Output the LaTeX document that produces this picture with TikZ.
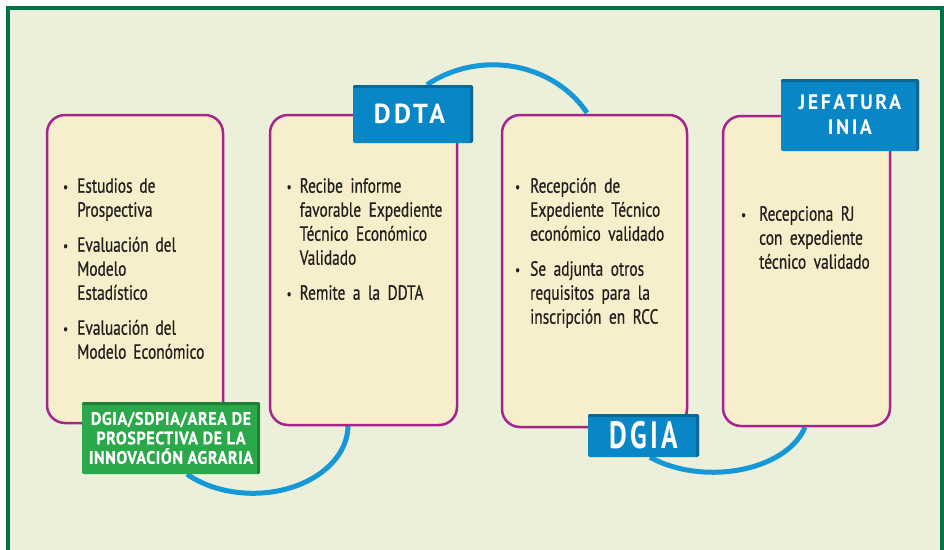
\documentclass[tikz,border=0pt]{standalone}
\usepackage{fontspec}
\usepackage{graphicx}
\setmainfont{PT Sans}[FakeStretch=0.75,FakeBold=0.6]
\newfontfamily\labA{PT Sans}[FakeStretch=0.95,LetterSpace=12]
\newfontfamily\labB{PT Sans}[FakeStretch=0.9,LetterSpace=3,FakeBold=0.4]
\newfontfamily\labC{PT Sans}[FakeStretch=0.72,LetterSpace=9]
\usetikzlibrary{backgrounds,calc}
\definecolor{bgc}{RGB}{236,239,217}
\definecolor{framec}{RGB}{0,112,72}
\definecolor{boxfill}{RGB}{247,238,203}
\definecolor{boxline}{RGB}{166,36,142}
\definecolor{labblue}{RGB}{8,134,198}
\definecolor{labbluedk}{RGB}{10,104,150}
\definecolor{labgreen}{RGB}{42,168,74}
\definecolor{labgreendk}{RGB}{30,130,56}
\definecolor{arcc}{RGB}{20,152,216}
\definecolor{txt}{RGB}{35,31,30}
\newlength\bind
\newcommand\nl{\hfil\break}
\newcommand\bitem[1]{\noindent\hangindent=\bind\hangafter=1\rule{0pt}{17pt}\makebox[\bind][l]{\raisebox{1pt}{\scalebox{0.7}{\textbullet}}}#1\par}
\begin{document}
\begin{tikzpicture}[x=1pt,y=-1pt,
  stagebox/.style={draw=boxline, line width=2.5pt, fill=boxfill, rounded corners=18pt, inner sep=0pt},
  bodytext/.style={anchor=north west, inner sep=0pt, text width=175pt, align=left, text=txt, font=\fontsize{20.5}{24}\selectfont},
  tag/.style 2 args={fill=#1, inner sep=0pt, text=white, rounded corners=2pt, align=center,
    path picture={\fill[#2] (path picture bounding box.north west) rectangle ([yshift=-3pt]path picture bounding box.north east);
                  \fill[#2] ([xshift=-3pt]path picture bounding box.north east) rectangle (path picture bounding box.south east);}},
  link/.style={draw=arcc, line width=5pt}]
\useasboundingbox (0,0) rectangle (944,549);
% stage boxes
\node[stagebox, minimum width=176pt, minimum height=308pt] (b1) at (135,269) {};
\node[stagebox, minimum width=187pt, minimum height=310pt] (b2) at (363.5,270) {};
\node[stagebox, minimum width=185pt, minimum height=312pt] (b3) at (594.5,271) {};
\node[stagebox, minimum width=167pt, minimum height=310pt] (b4) at (806.5,271) {};
% texts
\node[bodytext] (t1) at (63,175.5) {\setlength\bind{14pt}%
\bitem{Estudios de\nl Prospectiva}\vspace{11pt}
\bitem{Evaluación del\nl Modelo\nl Estadístico}\vspace{11pt}
\bitem{Evaluación del\nl Modelo Económico}};
\node[bodytext] (t2) at (286.5,175.5) {\setlength\bind{13pt}\spaceskip=7.5pt\relax
\bitem{Recibe informe\nl favorable Expediente\nl Técnico Económico\nl Validado}\vspace{11pt}
\bitem{Remite a la DDTA}};
\node[bodytext] (t3) at (515,175.5) {\setlength\bind{15pt}\spaceskip=7.5pt\relax
\bitem{Recepción de\nl Expediente Técnico\nl económico validado}\vspace{11pt}
\bitem{Se adjunta otros\nl requisitos para la\nl inscripción en RCC}};
\node[bodytext] (t4) at (741,203.5) {\setlength\bind{18pt}\spaceskip=7.5pt\relax
\bitem{Recepciona RJ\nl con expediente\nl técnico validado}};
% labels
\node[tag={labgreen}{labgreendk}, minimum width=178pt, minimum height=72pt, font=\labB\bfseries\fontsize{18}{19.5}\selectfont] (l1) at (171,438) {DGIA/SDPIA/AREA DE\\PROSPECTIVA DE LA\\INNOVACIÓN AGRARIA};
\node[tag={labblue}{labbluedk}, minimum width=120pt, minimum height=58pt, font=\labA\bfseries\fontsize{27.5}{27.5}\selectfont] (l2) at (413,114) {\hspace*{-7pt}DDTA};
\node[tag={labblue}{labbluedk}, minimum width=111pt, minimum height=43pt, font=\labC\bfseries\fontsize{38}{38}\selectfont] (l3) at (643.5,435.5) {DGIA};
\node[tag={labblue}{labbluedk}, minimum width=138pt, minimum height=72pt, font=\labA\bfseries\fontsize{21}{25}\selectfont] (l4) at (850,115) {JEFATURA\\INIA};
% background and connectors
\begin{scope}[on background layer]
\fill[white] (0,0) rectangle (944,549);
\draw[framec, line width=4pt, fill=bgc] (7.5,7.5) rectangle (942,600);
\draw[link] ([xshift=16pt]l1.south) arc[start angle=134, end angle=0, x radius=95, y radius=68];
\draw[link] ([xshift=14pt]l2.north) arc[start angle=233.13, end angle=328.7, x radius=110, y radius=100];
\draw[link] ([xshift=6.5pt]l3.south) arc[start angle=131.5, end angle=14.5, x radius=95, y radius=60];
\end{scope}
\end{tikzpicture}
\end{document}
